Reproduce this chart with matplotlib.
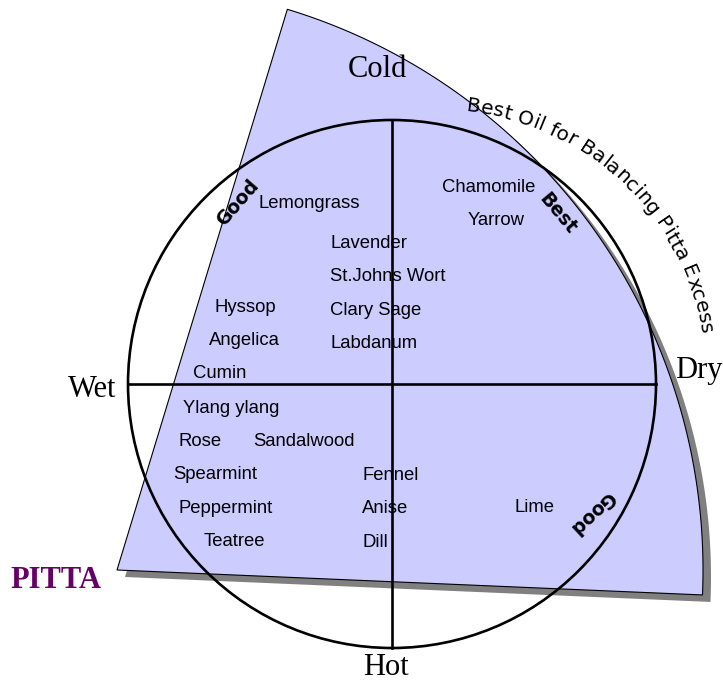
import numpy as np
import matplotlib
matplotlib.use("Agg")
import matplotlib.pyplot as plt
from matplotlib.patches import Polygon, Circle
from matplotlib.font_manager import FontProperties, findfont, get_font

# oils placed in the diagram (left edge x, centre y, in pixels of the picture)
herbs = ["Lemongrass", "Chamomile", "Yarrow", "Lavender", "St.Johns Wort",
         "Clary Sage", "Labdanum", "Hyssop", "Angelica", "Cumin",
         "Ylang ylang", "Rose", "Sandalwood", "Spearmint", "Fennel",
         "Peppermint", "Anise", "Lime", "Teatree", "Dill"]
herb_x = [258, 442, 468, 330, 330, 330, 330, 214, 209, 193,
          183, 178, 253, 173, 362, 178, 362, 514, 204, 362]
herb_y = [202, 186, 219, 242, 275, 309, 342, 306, 339, 372,
          407, 440, 440, 473, 474, 507, 507, 506, 540, 541]

# axis words: text, x, baseline y, horizontal alignment
axis_words = ["Cold", "Hot", "Wet", "Dry"]
axis_x = [377, 386, 92, 675]
axis_y = [77, 675, 397, 378]
axis_ha = ["center", "center", "center", "left"]

# ratings: text, centre x, centre y, angle
ratings = ["Good", "Best", "Good"]
rating_x = [238, 558, 592]
rating_y = [203, 214, 513]
rating_rot = [49, -50, 223]

title = "Best Oil for Balancing Pitta Excess"

W, H = 723, 682
fig = plt.figure(figsize=(W / 100, H / 100), dpi=100)
ax = fig.add_axes([0, 0, 1, 1])
ax.set_xlim(0, W)
ax.set_ylim(H, 0)
ax.axis("off")

# the pitta sector with its drop shadow
wcx, wcy, wr = 117, 570, 586
phi = np.radians(np.linspace(-2.44, 73.1, 200))
arc = np.column_stack([wcx + wr * np.cos(phi), wcy - wr * np.sin(phi)])
pts = np.vstack([[wcx, wcy], arc])
ax.add_patch(Polygon(pts + [8, 7], closed=True, facecolor="#808080",
                     edgecolor="none", zorder=1))
ax.add_patch(Polygon(pts, closed=True, facecolor="#ccccff",
                     edgecolor="black", linewidth=0.8, zorder=2))

# circle with the cross
cx, cy, r = 392, 384, 264
ax.add_patch(Circle((cx, cy), r, fill=False, edgecolor="black",
                    linewidth=1.9, zorder=3))
ax.plot([cx, cx], [cy - r, cy + r], color="black", linewidth=1.9, zorder=3)
ax.plot([cx - r, cx + r], [cy, cy], color="black", linewidth=1.9, zorder=3)

for name, x, y in zip(herbs, herb_x, herb_y):
    ax.text(x, y + 6, name, ha="left", va="baseline", fontsize=13.3,
            family="Liberation Sans", zorder=4)

for word, x, y, ha in zip(axis_words, axis_x, axis_y, axis_ha):
    ax.text(x, y, word, ha=ha, va="baseline", fontsize=22,
            family="Liberation Serif", zorder=4)

ax.text(10, 588, "PITTA", ha="left", va="baseline", fontsize=22,
        family="Liberation Serif", fontweight="bold", color="#660066")

for word, x, y, rot in zip(ratings, rating_x, rating_y, rating_rot):
    ax.text(x, y, word, ha="center", va="center", rotation=rot,
            rotation_mode="anchor", fontsize=13.5, fontweight="bold",
            family="DejaVu Sans", zorder=4)

# title bent round the top right
fsize = 14.6
fp = FontProperties(family="DejaVu Sans", size=fsize)
font = get_font(findfont(fp))
font.set_size(fsize, 72)
tcx, tcy, tr = 438, 376, 266
theta0 = 6.0
pos = 0.0
for ch in title:
    adv = font.load_char(ord(ch)).linearHoriAdvance / 65536 * fig.dpi / 72
    th = np.radians(theta0) + (pos + adv / 2) / tr
    pos += adv
    if ch == " ":
        continue
    ax.text(tcx + tr * np.sin(th), tcy - tr * np.cos(th), ch,
            rotation=-np.degrees(th), rotation_mode="anchor",
            ha="center", va="baseline", fontproperties=fp, zorder=4)

fig.savefig("out.png", dpi=100)
